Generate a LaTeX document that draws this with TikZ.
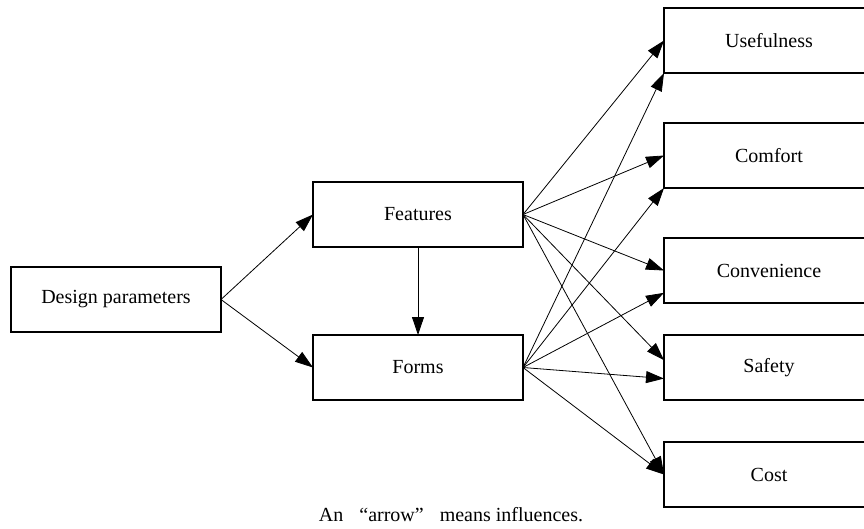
\documentclass[tikz,border=0pt]{standalone}
\usepackage{fontspec}
\setmainfont{Liberation Serif}
\usetikzlibrary{arrows.meta, positioning}

\begin{document}
\begin{tikzpicture}[x=1pt, y=1pt,
  box/.style={rectangle, draw=black, line width=1.1pt, minimum width=210pt, minimum height=65pt, inner sep=0pt, outer sep=0pt, font=\fontsize{20}{24}\selectfont},
  infl/.style={-{Triangle[length=18pt,width=12pt]}, line width=0.8pt}]
  \clip (0,-528) rectangle (864,0);
\node[box] at (116,-299.5) (design) {Design parameters};
\node[box, above right=20pt and 92pt of design] (features) {Features};
\node[box, below=88pt of features] (forms) {Forms};
\node[box, above right=109pt and 141pt of features] (usefulness) {Usefulness};
\node[box, below=50pt of usefulness] (comfort) {Comfort};
\node[box, below=50pt of comfort] (convenience) {Convenience};
\node[box, below=32pt of convenience] (safety) {Safety};
\node[box, below=42pt of safety] (cost) {Cost};
\node[font=\fontsize{20}{24}\selectfont] at (451,-515) (note) {An\hspace{0.8em}“arrow”\hspace{0.8em}means influences.};
\path[infl]
	(design.east) edge (features.west)
	(design.east) edge (forms.west)
	(features) edge (forms)
	(features.east) edge (usefulness.west)
	(forms.east) edge (usefulness.south west)
	(features.east) edge (comfort.west)
	(forms.east) edge (comfort.south west)
	(features.east) edge (convenience.west)
	(forms.east) edge (convenience.192)
	(features.east) edge (safety.176)
	(forms.east) edge (safety.186)
	(features.east) edge (cost.west)
	(forms.east) edge (cost.west)
;
\end{tikzpicture}
\end{document}
